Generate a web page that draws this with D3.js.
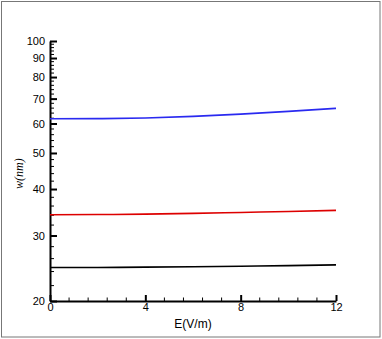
<!DOCTYPE html>
<html>
<head>
<meta charset="utf-8">
<script src="https://cdn.jsdelivr.net/npm/d3@7"></script>
<style>
  body { margin: 0; background: #fff; }
  .tick text { font-family: "Liberation Sans", Arial, sans-serif; font-size: 11px; fill: #000; }
</style>
</head>
<body>
<div id="chart"></div>
<script>
/* Values */
const efield = [0, 2, 4, 6, 8, 10, 12];
const wBlue  = [61.8, 61.85, 62.1, 62.7, 63.6, 64.7, 65.9];
const wRed   = [34.1, 34.15, 34.25, 34.4, 34.6, 34.8, 35.05];
const wBlack = [24.6, 24.62, 24.66, 24.72, 24.8, 24.9, 25.02];
const xMajor = [0, 4, 8, 12];
const yMajor = [20, 30, 40, 50, 60, 70, 80, 90, 100];

const W = 382, H = 339;
const margin = {top: 41, right: 46, bottom: 38, left: 50};
const width = W - margin.left - margin.right,
      height = H - margin.top - margin.bottom;

const svg = d3.select("#chart").append("svg")
    .attr("width", W).attr("height", H);

/* Outer frame */
svg.append("rect")
    .attr("x", 1.5).attr("y", 1.5)
    .attr("width", W - 3.5).attr("height", H - 3.5)
    .attr("fill", "none").attr("stroke", "#777").attr("stroke-width", 1);

const g = svg.append("g")
    .attr("transform", "translate(" + margin.left + "," + margin.top + ")");

const x = d3.scaleLinear().domain([0, 12]).range([0, width]);
const y = d3.scaleLog().domain([20, 100]).range([height, 0]);

/* Minor ticks */
const xMinor = d3.range(0, 12.001, 0.8).filter(v => xMajor.indexOf(Math.round(v * 10) / 10) < 0);
const yMinor = d3.range(22, 100, 2).filter(v => v % 10 !== 0);

g.append("g").selectAll("line").data(xMinor).join("line")
    .attr("x1", d => x(d)).attr("x2", d => x(d))
    .attr("y1", height).attr("y2", height - 3.5)
    .attr("stroke", "#000").attr("stroke-width", 1);

g.append("g").selectAll("line").data(yMinor).join("line")
    .attr("x1", 0).attr("x2", 4)
    .attr("y1", d => y(d)).attr("y2", d => y(d))
    .attr("stroke", "#000").attr("stroke-width", 1);

/* Axes */
const xAxis = g.append("g")
    .attr("transform", "translate(0," + height + ")")
    .call(d3.axisBottom(x).tickValues(xMajor).tickSizeInner(-6).tickSizeOuter(0).tickPadding(2));
xAxis.select(".domain").attr("stroke-width", 2);
xAxis.selectAll(".tick line").attr("stroke-width", 2);
xAxis.selectAll(".tick text").attr("dy", "0.7em");

const yAxis = g.append("g")
    .call(d3.axisLeft(y).tickValues(yMajor).tickFormat(d3.format("d")).tickSizeInner(-7).tickSizeOuter(0).tickPadding(4));
yAxis.select(".domain").attr("stroke-width", 2);
yAxis.selectAll(".tick line").attr("stroke-width", 2);
yAxis.selectAll(".tick text").attr("dx", "-1");

/* Axis titles */
g.append("text")
    .attr("x", width / 2).attr("y", height + 27)
    .attr("text-anchor", "middle")
    .attr("font-family", "Liberation Sans, Arial, sans-serif")
    .attr("font-size", 12)
    .text("E(V/m)");

g.append("text")
    .attr("transform", "translate(" + (-27) + "," + (y(44)) + ") rotate(-90)")
    .attr("text-anchor", "middle")
    .attr("font-family", "Liberation Serif, Times New Roman, serif")
    .attr("font-style", "italic")
    .attr("font-size", 12)
    .text("w(nm)");

/* Curves */
const series = [
    {vals: wBlue, color: "#2a2af0"},
    {vals: wRed, color: "#dd0000"},
    {vals: wBlack, color: "#000000"}
];
const line = d3.line()
    .x((d, i) => x(efield[i]))
    .y(d => y(d))
    .curve(d3.curveMonotoneX);

series.forEach(s => {
    g.append("path")
        .datum(s.vals)
        .attr("fill", "none")
        .attr("stroke", s.color)
        .attr("stroke-width", 1.6)
        .attr("d", line);
});
</script>
</body>
</html>
